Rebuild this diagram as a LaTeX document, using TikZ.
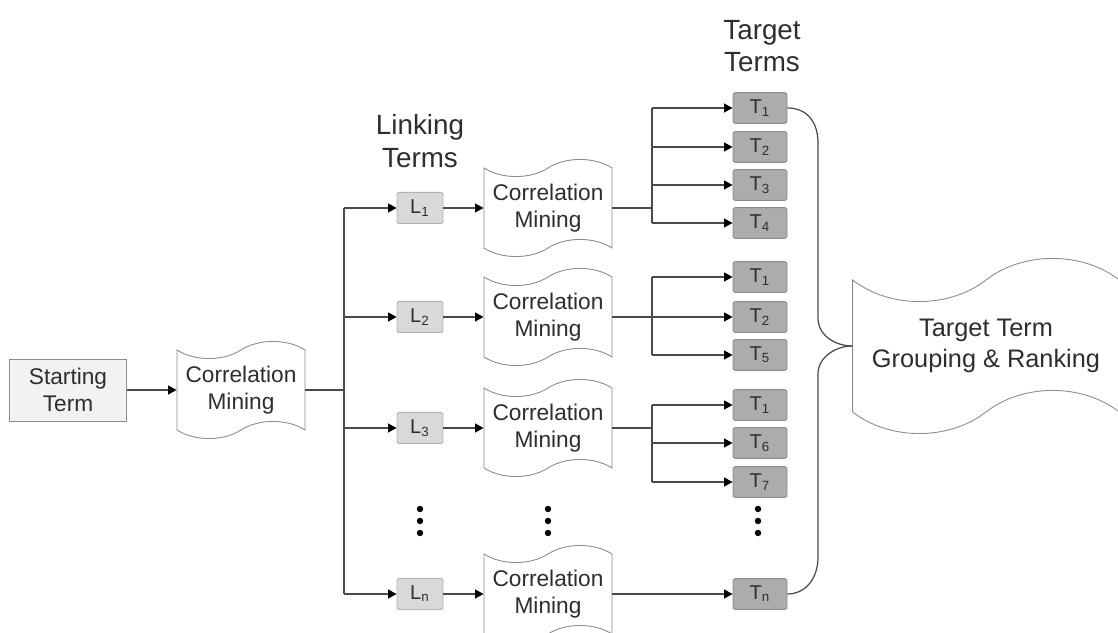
\documentclass[tikz,border=0pt]{standalone}
\usepackage{fontspec}
\setmainfont{Liberation Sans}
\usetikzlibrary{arrows,arrows.meta,shapes.symbols}
\definecolor{linegray}{HTML}{4A4A4A}
\definecolor{textgray}{HTML}{2E2E2E}
\tikzset{
  line/.style={draw=linegray, line width=0.55pt},
  arrow/.style={line, -{Triangle[length=3.8pt,width=4pt,color=black]}},
  term/.style={draw=gray!90, fill=gray!10, minimum width=52.7pt, minimum height=27.9pt,
    align=center, inner sep=1pt, text=textgray, font=\fontsize{10.2}{12.4}\selectfont},
  link/.style={draw=gray!60, fill=gray!30, rounded corners=1pt, minimum width=20.7pt,
    minimum height=14pt, inner sep=0pt, text=textgray, font=\fontsize{9}{10}\selectfont},
  target/.style={draw=gray!90, fill=gray!65, rounded corners=1pt, minimum width=24.3pt,
    minimum height=13.8pt, inner sep=0pt, text=textgray, font=\fontsize{9}{10}\selectfont},
  mining/.style={tape, draw=gray!90, fill=white, minimum width=57.6pt, minimum height=43.7pt,
    tape bend height=7.7pt, align=center, inner sep=0pt, text=textgray,
    font=\fontsize{10.2}{12.4}\selectfont},
  ranking/.style={tape, draw=gray!90, fill=white, minimum width=120pt, minimum height=78.8pt,
    tape bend height=19.4pt, align=center, inner sep=0pt, text=textgray,
    font=\fontsize{11.4}{14.2}\selectfont},
  header/.style={align=center, inner sep=0pt, text=textgray, font=\fontsize{12.5}{14.6}\selectfont},
  dot/.style={circle, fill=black, inner sep=0pt, minimum size=2.9pt}
}
\begin{document}
\begin{tikzpicture}[x=0.45pt,y=-0.45pt]
  \useasboundingbox (0,0) rectangle (1118,633);
  \coordinate (trunk) at (344,208);
  \coordinate (fork) at (652,208);

  \node[term] (start) at (68,390) {Starting\\Term};
  \node[mining] (cm0) at (241,390) {Correlation\\Mining};
  \draw[arrow] (start.east) -- (cm0.west);
  \draw[line] (cm0.east) -- (trunk |- cm0.east);

  \node[header] (linkhead) at (420,141) {Linking\\Terms};
  \node[header] (targethead) at (762,46) {Target\\Terms};

  % linking terms, one mining step each
  \foreach \i/\y in {1/208,2/317,3/428,n/594} {
    \node[link] (l\i) at (420,\y) {L\textsubscript{\i}};
    \node[mining] (cm\i) at (548,\y) {Correlation\\Mining};
    \draw[arrow] (trunk |- l\i) -- (l\i.west);
    \draw[arrow] (l\i.east) -- (cm\i.west);
  }
  \draw[line] (trunk |- l1) -- (trunk |- ln);

  % target terms
  \foreach \g/\t/\y in {1/1/108,1/2/147,1/3/185,1/4/223,2/1/277,2/2/317,2/5/355,
                        3/1/405,3/6/443,3/7/482,n/n/594} {
    \node[target] (t\g\t) at (760,\y) {T\textsubscript{\t}};
    \draw[arrow] (fork |- t\g\t) -- (t\g\t.west);
  }
  \foreach \g/\a/\b in {1/1/4,2/1/5,3/1/7,n/n/n}
    \draw[line] (cm\g.east) -- (fork |- cm\g.east) (fork |- t\g\a) -- (fork |- t\g\b);

  \foreach \x/\c in {420/l,548/c,758/t}
    \foreach \y [count=\k] in {509,521,533}
      \node[dot] (dot\c\k) at (\x,\y) {};

  \node[ranking] (rank) at (986,346) {Target Term\\Grouping \& Ranking};
  % brace into grouping
  \draw[line] (t11.east) .. controls (807,108) and (818,122) .. (818,143) -- (818,318)
    .. controls (818,336) and (836,346) .. (rank.west);
  \draw[line] (tnn.east) .. controls (806,594) and (818,578) .. (818,557) -- (818,374)
    .. controls (818,357) and (836,346) .. (rank.west);
\end{tikzpicture}
\end{document}
